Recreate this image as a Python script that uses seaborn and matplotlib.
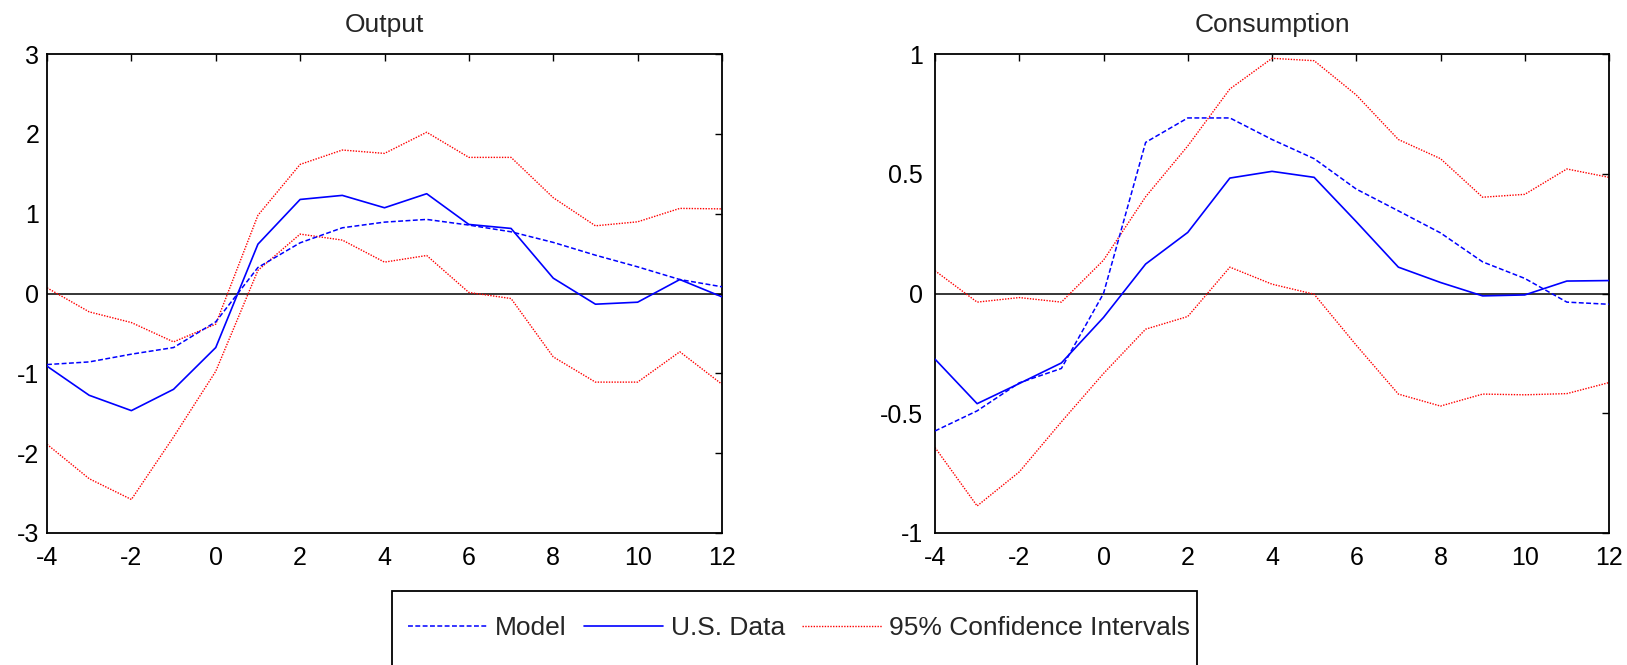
import matplotlib
matplotlib.use("Agg")
import matplotlib.pyplot as plt
from matplotlib.patches import Rectangle
import numpy as np
import pandas as pd
import seaborn as sns

# ---------------- data ----------------
horizon = list(range(-4, 13))

output_model = [-0.89, -0.857, -0.76, -0.677, -0.355, 0.326, 0.635, 0.823, 0.894,
                0.928, 0.857, 0.773, 0.64, 0.48, 0.334, 0.175, 0.084]
output_data = [-0.91, -1.275, -1.467, -1.2, -0.677, 0.618, 1.178, 1.229, 1.074,
               1.25, 0.865, 0.815, 0.192, -0.134, -0.109, 0.175, -0.042]
output_ci_upper = [0.071, -0.23, -0.364, -0.606, -0.384, 0.98, 1.617, 1.797, 1.755,
                   2.02, 1.705, 1.705, 1.2, 0.848, 0.898, 1.066, 1.06]
output_ci_lower = [-1.889, -2.32, -2.58, -1.797, -0.974, 0.29, 0.744, 0.669, 0.393,
                   0.476, 0.013, -0.063, -0.794, -1.11, -1.11, -0.73, -1.137]

cons_model = [-0.574, -0.49, -0.373, -0.313, 0.0, 0.631, 0.733, 0.733, 0.643,
              0.563, 0.436, 0.345, 0.253, 0.132, 0.063, -0.036, -0.045]
cons_data = [-0.274, -0.46, -0.376, -0.29, -0.1, 0.123, 0.255, 0.482, 0.51,
             0.485, 0.30, 0.11, 0.046, -0.01, -0.006, 0.052, 0.054]
cons_ci_upper = [0.095, -0.036, -0.017, -0.036, 0.139, 0.404, 0.616, 0.854, 0.982,
                 0.972, 0.829, 0.643, 0.563, 0.402, 0.414, 0.52, 0.485]
cons_ci_lower = [-0.643, -0.887, -0.745, -0.536, -0.334, -0.149, -0.096, 0.11, 0.039,
                 -0.003, -0.216, -0.42, -0.47, -0.42, -0.423, -0.418, -0.372]

panel_titles = ["Output", "Consumption"]
x_ticks = [-4, -2, 0, 2, 4, 6, 8, 10, 12]
x_tick_labels = ["-4", "-2", "0", "2", "4", "6", "8", "10", "12"]
output_y_ticks = [-3, -2, -1, 0, 1, 2, 3]
output_y_tick_labels = ["-3", "-2", "-1", "0", "1", "2", "3"]
cons_y_ticks = [-1, -0.5, 0, 0.5, 1]
cons_y_tick_labels = ["-1", "-0.5", "0", "0.5", "1"]
legend_labels = ["Model", "U.S. Data", "95% Confidence Intervals"]

# ---------------- style ----------------
sns.set_style("white")
plt.rcParams["font.family"] = ["Liberation Sans", "DejaVu Sans"]
plt.rcParams["axes.linewidth"] = 1.3
plt.rcParams["axes.edgecolor"] = "black"

W, H = 1627, 665
fig = plt.figure(figsize=(W / 100, H / 100), dpi=100)

def px_axes(x0, x1, y0, y1):
    return [x0 / W, 1 - y1 / H, (x1 - x0) / W, (y1 - y0) / H]

ax_out = fig.add_axes(px_axes(47, 722, 54, 533))
ax_con = fig.add_axes(px_axes(935, 1609, 54, 533))

BLUE = (0, 0, 1)
RED = (1, 0, 0)
DASH = (0, (3.2, 1.6))
DOT = (0, (1, 1))

def draw_panel(ax, title, model, data, ci_up, ci_lo, yticks, yticklabels, ypad):
    df = pd.DataFrame({"h": horizon, "model": model, "data": data,
                       "up": ci_up, "lo": ci_lo})
    ax.axhline(0, color="black", lw=1.1, zorder=1)
    sns.lineplot(data=df, x="h", y="model", ax=ax, color=BLUE, lw=1.1,
                 linestyle=DASH, label=legend_labels[0], zorder=3)
    sns.lineplot(data=df, x="h", y="data", ax=ax, color=BLUE, lw=1.2,
                 linestyle="-", label=legend_labels[1], zorder=3)
    sns.lineplot(data=df, x="h", y="up", ax=ax, color=RED, lw=1.0,
                 linestyle=DOT, label=legend_labels[2], zorder=2)
    sns.lineplot(data=df, x="h", y="lo", ax=ax, color=RED, lw=1.0,
                 linestyle=DOT, label="_nolegend_", zorder=2)
    leg = ax.get_legend()
    if leg is not None:
        leg.remove()
    ax.set_xlim(-4, 12)
    ax.set_ylim(yticks[0], yticks[-1])
    ax.set_xticks(x_ticks)
    ax.set_xticklabels(x_tick_labels)
    ax.set_yticks(yticks)
    ax.set_yticklabels(yticklabels)
    ax.set_xlabel("")
    ax.set_ylabel("")
    ax.set_title(title, fontsize=19, pad=15.5)
    ax.tick_params(axis="both", direction="in", length=5, width=1.0,
                   labelsize=18, top=True, right=True, colors="black")
    ax.tick_params(axis="x", pad=9.5)
    ax.tick_params(axis="y", pad=ypad)
    for s in ax.spines.values():
        s.set_visible(True)
        s.set_color("black")
        s.set_linewidth(1.3)

draw_panel(ax_out, panel_titles[0], output_model, output_data,
           output_ci_upper, output_ci_lower, output_y_ticks, output_y_tick_labels, 5.5)
draw_panel(ax_con, panel_titles[1], cons_model, cons_data,
           cons_ci_upper, cons_ci_lower, cons_y_ticks, cons_y_tick_labels, 8.5)

handles, labels = ax_out.get_legend_handles_labels()
fig.legend(handles, labels, loc="center left",
           bbox_to_anchor=(408 / W, 1 - 628 / H), ncol=3, frameon=False,
           fontsize=19, handlelength=3.0, handletextpad=0.3,
           columnspacing=0.65, borderpad=0, borderaxespad=0)

frame = Rectangle((392 / W, -0.05), 805 / W, (1 - 591 / H) + 0.05,
                  transform=fig.transFigure, fill=False, edgecolor="black",
                  linewidth=1.3, clip_on=False)
fig.add_artist(frame)

fig.savefig("out.png", dpi=100)
